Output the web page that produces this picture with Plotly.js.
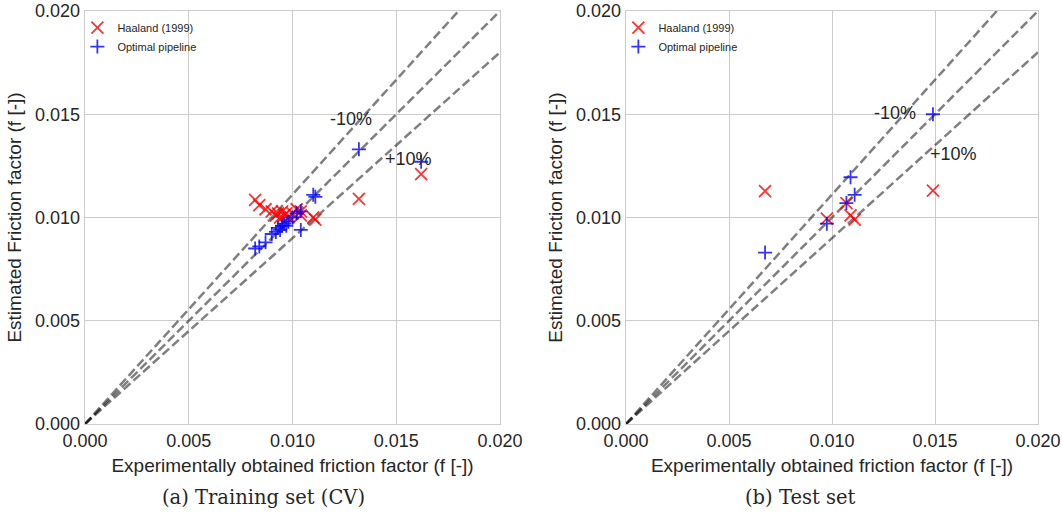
<!DOCTYPE html>
<html>
<head>
<meta charset="utf-8">
<script src="https://cdn.plot.ly/plotly-3.0.1.min.js"></script>
<style>html,body{margin:0;padding:0;background:#fff;}#chart{width:1062px;height:515px;}</style>
</head>
<body>
<div id="chart"></div>
<script>
// ---- Data ----
// (a) Training set (CV)
const trainExp = [0.0082, 0.0084, 0.0087, 0.0090, 0.0092, 0.0093, 0.0094, 0.0095, 0.0096, 0.0097,
                  0.0098, 0.0100, 0.0102, 0.0104, 0.0104, 0.0110, 0.0111, 0.0132, 0.0162];
const trainHaaland = [0.01085, 0.0106, 0.0104, 0.0103, 0.0101, 0.0102, 0.0100, 0.0103, 0.0101, 0.0102,
                      0.0100, 0.0102, 0.0104, 0.0101, 0.0103, 0.0100, 0.0099, 0.0109, 0.0121];
const trainOptimal = [0.0085, 0.0086, 0.0088, 0.0092, 0.0093, 0.0095, 0.0094, 0.0096, 0.0097, 0.0096,
                      0.0098, 0.0100, 0.0102, 0.0103, 0.0094, 0.0111, 0.0110, 0.0133, 0.0127];
// (b) Test set
const testExp = [0.00675, 0.00975, 0.0107, 0.0109, 0.0111, 0.0149];
const testHaaland = [0.01128, 0.00995, 0.0107, 0.0101, 0.0099, 0.0113];
const testOptimal = [0.0083, 0.0097, 0.0107, 0.01195, 0.0111, 0.0150];
// Reference lines: y = x/0.9 (-10%), y = x, y = 0.9x (+10%)
const refX = [0, 0.02];
const refFactors = [1 / 0.9, 1.0, 0.9];
const refLabels = ['-10%', '+10%'];
const tickVals = [0, 0.005, 0.010, 0.015, 0.020];
const seriesNames = ['Haaland (1999)', 'Optimal pipeline'];
const captions = ['(a) Training set (CV)', '(b) Test set'];
const xTitle = 'Experimentally obtained friction factor (f [-])';
const yTitle = 'Estimated Friction factor (f [-])';

const TXT = '#262626';
const FONT = 'Liberation Sans, Arial, sans-serif';
const redC = 'rgba(255,0,0,0.8)';
const blueC = 'rgba(0,0,255,0.8)';

const traces = [];
function addPanel(xa, ya, legendName, xs, hs, os) {
  refFactors.forEach(f => {
    traces.push({
      x: refX, y: refX.map(v => v * f), xaxis: xa, yaxis: ya,
      mode: 'lines', showlegend: false, hoverinfo: 'skip',
      line: {color: 'rgba(0,0,0,0.5)', width: 2.5, dash: '9px,4px'}
    });
  });
  traces.push({
    x: xs, y: hs, xaxis: xa, yaxis: ya, mode: 'markers', name: seriesNames[0],
    legend: legendName,
    marker: {symbol: 'x-thin-open', size: 12, color: redC, line: {color: redC, width: 1.8}}
  });
  traces.push({
    x: xs, y: os, xaxis: xa, yaxis: ya, mode: 'markers', name: seriesNames[1],
    legend: legendName,
    marker: {symbol: 'cross-thin-open', size: 10, color: blueC, line: {color: blueC, width: 1.8}}
  });
}
addPanel('x', 'y', 'legend', trainExp, trainHaaland, trainOptimal);
addPanel('x2', 'y2', 'legend2', testExp, testHaaland, testOptimal);

function axis(domain, anchor, title) {
  return {
    domain: domain, anchor: anchor, range: [0, 0.02], tickvals: tickVals, tickformat: '.3f',
    showgrid: true, gridcolor: '#cccccc', gridwidth: 1, zeroline: false,
    showline: true, mirror: true, linecolor: '#cccccc', linewidth: 1.3,
    ticks: '', tickfont: {family: FONT, size: 18, color: TXT},
    title: {text: title, font: {family: FONT, size: 19, color: TXT}, standoff: 8}
  };
}

const L = 85, R = 24, T = 11, B = 91;
const W = 1062 - L - R;
const xd1 = [0, (500 - L) / W];
const xd2 = [(626 - L) / W, 1];

const legendBase = {
  y: 0.995, xanchor: 'left', yanchor: 'top', bgcolor: 'rgba(0,0,0,0)',
  font: {family: FONT, size: 11, color: TXT}, tracegroupgap: 0, itemwidth: 30,
  entrywidth: 0
};

const layout = {
  width: 1062, height: 515,
  margin: {l: L, r: R, t: T, b: B},
  paper_bgcolor: '#ffffff', plot_bgcolor: '#ffffff',
  font: {family: FONT, color: TXT},
  xaxis: axis(xd1, 'y', xTitle),
  yaxis: axis([0, 1], 'x', yTitle),
  xaxis2: axis(xd2, 'y2', xTitle),
  yaxis2: axis([0, 1], 'x2', yTitle),
  legend: Object.assign({x: -0.008}, legendBase),
  legend2: Object.assign({x: xd2[0] - 0.008}, legendBase),
  showlegend: true,
  annotations: [
    {xref: 'x', yref: 'y', x: 0.01284, y: 0.01477, text: refLabels[0], showarrow: false, font: {family: FONT, size: 18, color: TXT}},
    {xref: 'x', yref: 'y', x: 0.01558, y: 0.01283, text: refLabels[1], showarrow: false, font: {family: FONT, size: 18, color: TXT}},
    {xref: 'x2', yref: 'y2', x: 0.01306, y: 0.01506, text: refLabels[0], showarrow: false, font: {family: FONT, size: 18, color: TXT}},
    {xref: 'x2', yref: 'y2', x: 0.0159, y: 0.01307, text: refLabels[1], showarrow: false, font: {family: FONT, size: 18, color: TXT}},
    {xref: 'paper', yref: 'paper', x: (263 - L) / W, y: (424 - 497) / 413, xanchor: 'center', yanchor: 'middle',
     text: captions[0], showarrow: false, font: {family: 'DejaVu Serif, serif', size: 19.5, color: TXT}},
    {xref: 'paper', yref: 'paper', x: (800 - L) / W, y: (424 - 497) / 413, xanchor: 'center', yanchor: 'middle',
     text: captions[1], showarrow: false, font: {family: 'DejaVu Serif, serif', size: 19.5, color: TXT}}
  ]
};

Plotly.newPlot('chart', traces, layout, {displayModeBar: false, staticPlot: true});
</script>
</body>
</html>
